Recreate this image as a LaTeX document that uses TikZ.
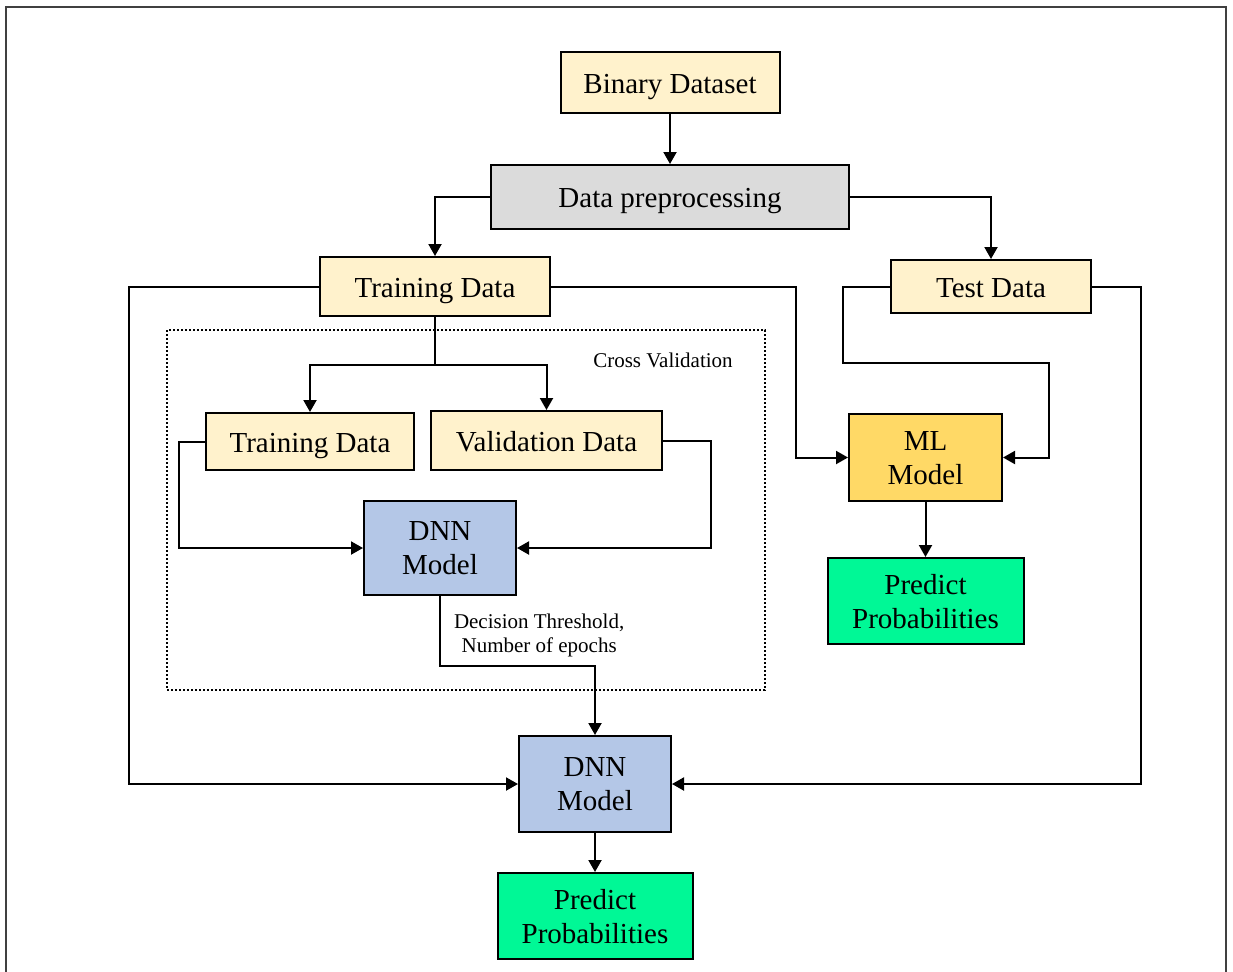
\documentclass[tikz,border=0pt]{standalone}
\usepackage{fontspec}
\setmainfont{Liberation Serif}
\usepackage{tikz}
\usepackage{xcolor}
\usetikzlibrary{arrows.meta, positioning}

\definecolor{cream}{HTML}{FFF2CC}
\definecolor{prepgray}{HTML}{DBDBDB}
\definecolor{dnnblue}{HTML}{B4C7E7}
\definecolor{mlgold}{HTML}{FFD966}
\definecolor{predgreen}{HTML}{00F896}

\begin{document}
\begin{tikzpicture}[
  x=0.5pt, y=-0.5pt,
  box/.style={rectangle, draw=black, line width=1pt, align=center, inner sep=2pt, font=\fontsize{14.5}{17}\selectfont},
  oneline/.style={text height=13.8pt, text depth=2.9pt},
  twoline/.style={text depth=-2pt},
  datbox/.style={box, oneline, fill=cream},
  prepbox/.style={box, oneline, fill=prepgray},
  dnnbox/.style={box, twoline, fill=dnnblue, minimum width=76pt},
  mlbox/.style={box, twoline, fill=mlgold},
  predbox/.style={box, twoline, fill=predgreen, minimum height=43pt},
  small/.style={font=\fontsize{10.5}{12}\selectfont, align=center, inner sep=0pt},
  line/.style={draw, line width=1pt, -{Triangle[length=6pt,width=6.5pt]}}
]
  \useasboundingbox (0,0) rectangle (1233,971);

  % outer frame
  \draw[black!75, line width=0.8pt] (6,980) -- (6,7) -- (1226,7) -- (1226,980);

  \node [datbox, minimum width=109.5pt, minimum height=30.5pt] (bin) at (670,82.5) {Binary Dataset};
  \node [prepbox, minimum width=179pt, minimum height=32pt, below=25pt of bin] (prep) {Data preprocessing};
  \node [datbox, minimum width=115pt, minimum height=29.5pt] (train) at (435,286.5) {Training Data};
  \node [datbox, minimum width=100pt, minimum height=26.5pt] (test) at (991,286.5) {Test Data};

  % cross validation area
  \draw[line width=1pt, dash pattern=on 1pt off 1pt] (167,330) rectangle (765,690);
  \node [small] (cvlabel) at (663,360) {Cross Validation};

  \node [datbox, minimum width=104pt, minimum height=28.5pt] (trin) at (310,441.5) {Training Data};
  \node [datbox, minimum width=115.5pt, minimum height=29.5pt] (val) at (546.5,440.5) {Validation Data};
  \node [dnnbox, minimum height=47pt] (dnn) at (440,548) {DNN\\Model};

  \node [mlbox, minimum width=76.5pt, minimum height=43.5pt] (ml) at (925.5,457.5) {ML\\Model};
  \node [predbox, minimum width=98pt, below=27.5pt of ml] (predml) {Predict\\Probabilities};

  \node [dnnbox, minimum height=48pt] (dnnfin) at (595,784) {DNN\\Model};
  \node [predbox, minimum width=97.5pt, below=19.5pt of dnnfin] (predfin) {Predict\\Probabilities};

  \coordinate (split) at (435,365);

  \draw [line] (bin) -- (prep);
  \draw [line] (prep.west) -| (train.north);
  \draw [line] (prep.east) -| (test.north);

  \draw [line] (train.west) -- ++(-190,0) |- (dnnfin.west);
  \draw [line] (train.east) -- ++(245,0) |- (ml.west);
  \draw [line width=1pt] (train.south) -- (split);
  \draw [line] (split) -| (trin.north);
  \draw [line] (split) -| (val.north);

  \draw [line] (trin.west) -- ++(-26,0) |- (dnn.west);
  \draw [line] (val.east) -- ++(48,0) |- (dnn.east);
  \draw [line] (dnn.south) -- node[small, anchor=west, xshift=6.5pt, pos=0.57] {Decision Threshold,\\Number of epochs} ++(0,70) -| (dnnfin.north);

  \draw [line] (test.west) -| ++(-47,76) -- ++(206,0) |- (ml.east);
  \draw [line] (test.east) -- ++(49,0) |- (dnnfin.east);

  \draw [line] (ml) -- (predml);
  \draw [line] (dnnfin) -- (predfin);
\end{tikzpicture}
\end{document}
